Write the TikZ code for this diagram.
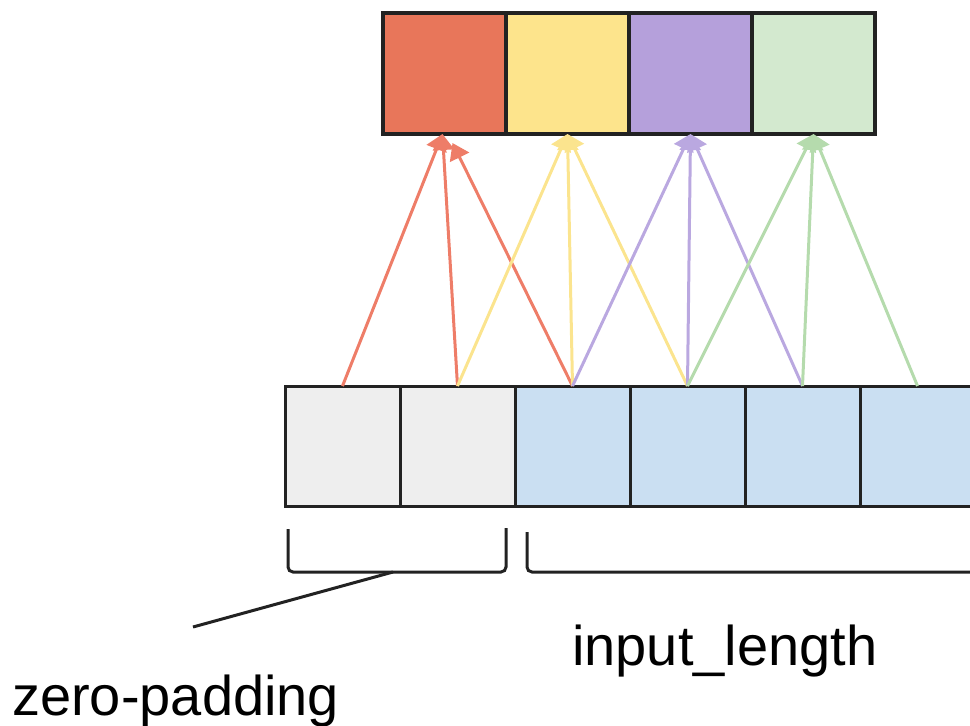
\documentclass[tikz,border=0pt]{standalone}
\usepackage{fontspec}
\setmainfont{Liberation Sans}
\usetikzlibrary{arrows.meta,positioning}
\definecolor{cRed}{HTML}{E8765A}
\definecolor{cYel}{HTML}{FDE48C}
\definecolor{cPur}{HTML}{B5A0DB}
\definecolor{cGrn}{HTML}{D3E9CF}
\definecolor{cRedA}{HTML}{EE7D68}
\definecolor{cYelA}{HTML}{FBE48E}
\definecolor{cPurA}{HTML}{BAA8E0}
\definecolor{cGrnA}{HTML}{B5DBAD}
\definecolor{cPad}{HTML}{EEEEEE}
\definecolor{cIn}{HTML}{CADFF2}
\definecolor{cInk}{HTML}{222222}
\tikzset{
  >={Triangle[length=16pt,width=21pt]},
  outbox/.style={draw=cInk,line width=3.5pt,minimum width=123pt,minimum height=121pt,inner sep=0pt,outer sep=0pt},
  inbox/.style ={draw=cInk,line width=3pt,minimum width=115pt,minimum height=120pt,inner sep=0pt,outer sep=0pt},
  ar/.style={->,line width=3pt},
  brk/.style={cInk,line width=3pt,rounded corners=5pt},
  lbl/.style={font=\fontsize{56}{60}\selectfont,inner sep=0pt},
}

\begin{document}
\begin{tikzpicture}[x=1pt,y=-1pt]
\useasboundingbox (0,0) rectangle (970,726);
% input row: padding + input
\node[inbox,fill=cPad] (p1) at (342.5,446) {};
\node[inbox,fill=cPad,right=0pt of p1] (p2) {};
\node[inbox,fill=cIn,right=0pt of p2] (x1) {};
\node[inbox,fill=cIn,right=0pt of x1] (x2) {};
\node[inbox,fill=cIn,right=0pt of x2] (x3) {};
\node[inbox,fill=cIn,right=0pt of x3] (x4) {};
% output row
\node[outbox,fill=cRed] (o1) at (444.5,73.5) {};
\node[outbox,fill=cYel,right=0pt of o1] (o2) {};
\node[outbox,fill=cPur,right=0pt of o2] (o3) {};
\node[outbox,fill=cGrn,right=0pt of o3] (o4) {};
% kernel of width 3
\draw[ar,cRedA] (p1.north) -- ([xshift=-2pt]o1.south);
\draw[ar,cRedA] (p2.north) -- ([xshift=-2pt]o1.south);
\draw[ar,cRedA] (x1.north) -- ([xshift=8pt,yshift=-9pt]o1.south);
\draw[ar,cYelA] (p2.north) -- (o2.south);
\draw[ar,cYelA] (x1.north) -- (o2.south);
\draw[ar,cYelA] (x2.north) -- (o2.south);
\draw[ar,cPurA] (x1.north) -- (o3.south);
\draw[ar,cPurA] (x2.north) -- (o3.south);
\draw[ar,cPurA] (x3.north) -- (o3.south);
\draw[ar,cGrnA] (x2.north) -- (o4.south);
\draw[ar,cGrnA] (x3.north) -- (o4.south);
\draw[ar,cGrnA] (x4.north) -- (o4.south);
% brackets
\draw[brk] (288,529) -- (288,572) -- (506,572) -- (506,528);
\draw[brk] (527,532) -- (527,572) -- (985,572);
\coordinate (padtip) at (393,572);
\coordinate (padend) at (193,627);
\draw[cInk,line width=3pt] (padtip) -- (padend);
\node[lbl,anchor=base west] (padlbl) at (12,715) {zero-padding};
\node[lbl,anchor=base west] (inlbl) at (572,665) {input\_length};
\end{tikzpicture}
\end{document}
